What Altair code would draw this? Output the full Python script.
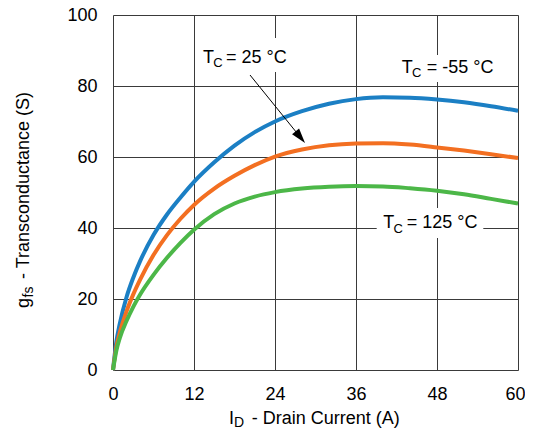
import altair as alt
import pandas as pd

# ---- data ----
id_amps = [0, 0.5, 1, 2, 3, 4, 6, 8, 10, 12, 15, 18, 21, 24, 28, 32, 36, 40, 44, 48, 52, 56, 60]
gfs_m55 = [0, 8, 13, 20.5, 26, 30.6, 38, 43.8, 48.6, 53, 58.5, 63.2, 67, 70, 72.9, 75, 76.3, 76.8, 76.7, 76.2, 75.4, 74.3, 73]
gfs_25 = [0, 6.5, 10.5, 16.5, 21.3, 25.4, 32.4, 38, 42.6, 46.5, 51.1, 54.7, 57.7, 60.1, 62.1, 63.3, 63.8, 63.9, 63.5, 62.7, 61.8, 60.8, 59.7]
gfs_125 = [0, 5.5, 9, 13.8, 17.8, 21.2, 26.8, 31.6, 35.8, 39.5, 43.9, 46.9, 48.85, 50.1, 51.1, 51.6, 51.8, 51.7, 51.2, 50.5, 49.5, 48.2, 46.9]
series_names = ["-55", "25", "125"]
series_colors = ["#1b7fc4", "#f36f21", "#4cb748"]
x_ticks = [0, 12, 24, 36, 48, 60]
y_ticks = [0, 20, 40, 60, 80, 100]

FONT = "Liberation Sans"

rows = []
for name, vals in zip(series_names, [gfs_m55, gfs_25, gfs_125]):
    for xv, yv in zip(id_amps, vals):
        rows.append({"id": xv, "gfs": yv, "series": name})
df = pd.DataFrame(rows)

one = pd.DataFrame({"k": [0]})

x_scale = alt.Scale(domain=[0, 60], nice=False, zero=False)
y_scale = alt.Scale(domain=[0, 100], nice=False, zero=False)

lines = alt.Chart(df).mark_line(strokeWidth=4, interpolate="monotone").encode(
    x=alt.X("id:Q", scale=x_scale,
            axis=alt.Axis(values=x_ticks, title=None, grid=True, ticks=False, domain=False,
                          labelFont=FONT, labelFontSize=18, labelColor="black",
                          labelPadding=15, gridColor="#3a3a3a", gridWidth=1, gridOpacity=1,
                          labelFlush=False,
                          labelOffset={"condition": {"test": "datum.value == 60", "value": -3}, "value": 0})),
    y=alt.Y("gfs:Q", scale=y_scale,
            axis=alt.Axis(values=y_ticks, title=None, grid=True, ticks=False, domain=False,
                          labelFont=FONT, labelFontSize=18, labelColor="black",
                          labelPadding=16, gridColor="#3a3a3a", gridWidth=1, gridOpacity=1,
                          labelFlush=False)),
    color=alt.Color("series:N", scale=alt.Scale(domain=series_names, range=series_colors), legend=None),
    detail="series:N",
)


def box(x1, x2, y1, y2):
    return alt.Chart(one).mark_rect(color="white").encode(
        x=alt.value(x1), x2=alt.value(x2), y=alt.value(y1), y2=alt.value(y2))


def txt(s, x, y, size=18, angle=0):
    kw = dict(text=s, font=FONT, fontSize=size, color="black", align="left", baseline="alphabetic")
    if angle:
        kw["angle"] = angle
    return alt.Chart(one).mark_text(**kw).encode(x=alt.value(x), y=alt.value(y))


boxes = [
    box(85, 177, 23, 57),
    box(283, 381, 40, 67),
    box(263.7, 370.3, 193, 223),
]

labels = [
    # T_C = 25 °C
    txt("T", 90, 48.3), txt("C", 100.3, 52.3, size=13), txt("= 25 °C", 113, 48.3),
    # T_C = -55 °C
    txt("T", 288.7, 58.3), txt("C", 299, 62.3, size=13), txt("= -55 °C", 313.7, 58.3),
    # T_C = 125 °C
    txt("T", 270.3, 213.3), txt("C", 280.6, 218.3, size=13), txt("= 125 °C", 293.7, 213.3),
    # x title
    txt("I", 116, 408.5), txt("D", 121, 412, size=14), txt("- Drain Current (A)", 138.7, 408.5),
    # y title (rotated)
    txt("g", -84, 293, angle=270), txt("fs", -80, 282.5, size=14, angle=270),
    txt("- Transconductance (S)", -84, 264, angle=270),
]

arrow_line = alt.Chart(one).mark_rule(color="black", strokeWidth=1).encode(
    x=alt.value(137), y=alt.value(60), x2=alt.value(187.5), y2=alt.value(122.4))
arrow_head = alt.Chart(one).mark_point(
    shape="M0,-1L0.6,1L-0.6,1Z", filled=True, color="black", opacity=1, size=225, angle=141
).encode(x=alt.value(187.3), y=alt.value(122.2))

chart = alt.layer(*boxes, lines, arrow_line, arrow_head, *labels).properties(
    width=405, height=355,
    autosize=alt.AutoSizeParams(type="none"),
    padding={"left": 105, "top": 7, "right": 7, "bottom": 59},
).configure_view(stroke="black", strokeWidth=2.5).configure(background="white")

chart.save("out.html", embed_options={"renderer": "svg", "actions": False})
